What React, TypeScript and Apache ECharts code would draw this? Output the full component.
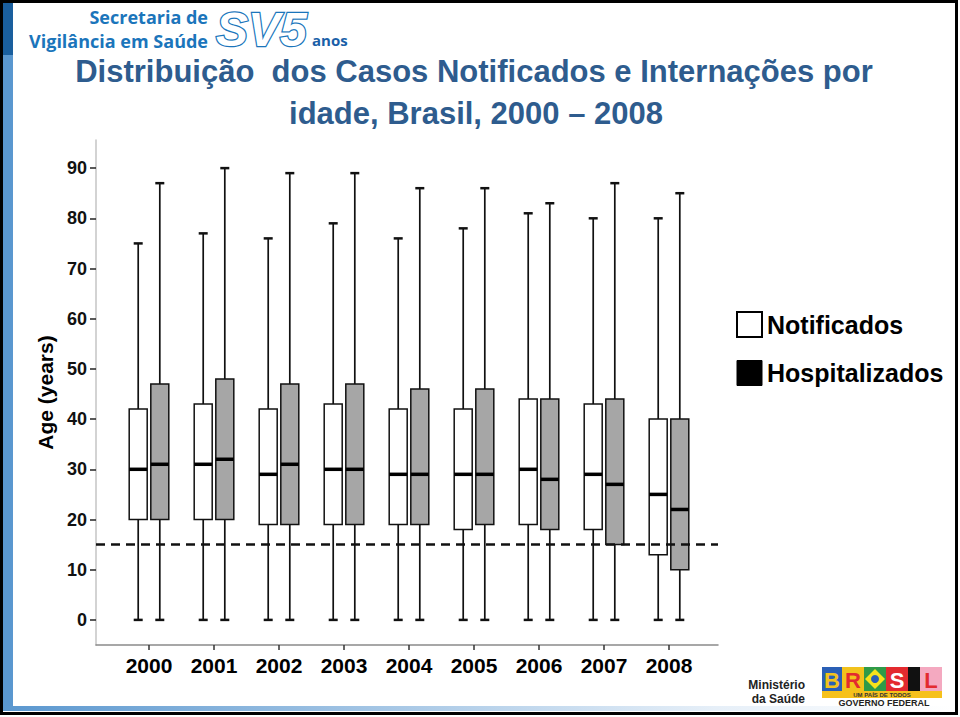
import React, { useEffect, useRef } from 'react';
import * as echarts from 'echarts';

// ---- data ----
const years = ['2000', '2001', '2002', '2003', '2004', '2005', '2006', '2007', '2008'];

const notifMin = [0, 0, 0, 0, 0, 0, 0, 0, 0];
const notifQ1 = [20, 20, 19, 19, 19, 18, 19, 18, 13];
const notifMedian = [30, 31, 29, 30, 29, 29, 30, 29, 25];
const notifQ3 = [42, 43, 42, 43, 42, 42, 44, 43, 40];
const notifMax = [75, 77, 76, 79, 76, 78, 81, 80, 80];

const hospMin = [0, 0, 0, 0, 0, 0, 0, 0, 0];
const hospQ1 = [20, 20, 19, 19, 19, 19, 18, 15, 10];
const hospMedian = [31, 32, 31, 30, 29, 29, 28, 27, 22];
const hospQ3 = [47, 48, 47, 47, 46, 46, 44, 44, 40];
const hospMax = [87, 90, 89, 89, 86, 86, 83, 87, 85];

const threshold = 15;
const yTickValues = [0, 10, 20, 30, 40, 50, 60, 70, 80, 90];
const xTickValues = years.map((_, i) => i);

const X_MIN = -0.8154;
const X_MAX = 8.7538;

function boxRows(mins: number[], q1: number[], med: number[], q3: number[], maxs: number[]) {
  return years.map((_, i) => [i, mins[i], q1[i], med[i], q3[i], maxs[i]]);
}

function makeRenderItem(offset: number, fill: string) {
  return (_params: any, api: any) => {
    const x = api.value(0);
    const c = (v: number) => api.coord([x, v]);
    const pMin = c(api.value(1));
    const pQ1 = c(api.value(2));
    const pMed = c(api.value(3));
    const pQ3 = c(api.value(4));
    const pMax = c(api.value(5));
    const cx = pMin[0] + offset;
    const half = 9;
    const cap = 4.5;
    const stroke = '#111';
    return {
      type: 'group',
      children: [
        { type: 'line', shape: { x1: cx, y1: pMax[1], x2: cx, y2: pQ3[1] }, style: { stroke, lineWidth: 1.7 } },
        { type: 'line', shape: { x1: cx, y1: pQ1[1], x2: cx, y2: pMin[1] }, style: { stroke, lineWidth: 1.7 } },
        { type: 'line', shape: { x1: cx - cap, y1: pMax[1], x2: cx + cap, y2: pMax[1] }, style: { stroke, lineWidth: 2.5 } },
        { type: 'line', shape: { x1: cx - cap, y1: pMin[1], x2: cx + cap, y2: pMin[1] }, style: { stroke, lineWidth: 2.5 } },
        {
          type: 'rect',
          shape: { x: cx - half, y: pQ3[1], width: half * 2, height: pQ1[1] - pQ3[1] },
          style: { fill, stroke, lineWidth: 1.5 },
        },
        { type: 'line', shape: { x1: cx - half, y1: pMed[1], x2: cx + half, y2: pMed[1] }, style: { stroke: '#000', lineWidth: 3.5 } },
      ],
    };
  };
}

const titleColor = '#2e5c8e';
const logoBlue = '#1b75bb';
const sans = "'Liberation Sans', Arial, sans-serif";

export default function App() {
  const ref = useRef<HTMLDivElement>(null);

  useEffect(() => {
    if (!ref.current) return;
    const chart = echarts.init(ref.current, undefined, { renderer: 'svg' });

    const option: any = {
      animation: false,
      backgroundColor: '#fff',
      grid: { left: 96, right: 242, top: 140, bottom: 72, containLabel: false },
      xAxis: {
        type: 'value',
        min: X_MIN,
        max: X_MAX,
        splitLine: { show: false },
        axisLine: { show: true, onZero: false, lineStyle: { color: '#8a8a8a', width: 1.5 } },
        axisTick: { show: true, customValues: xTickValues, length: 5, lineStyle: { color: '#333', width: 1.5 } },
        axisLabel: {
          customValues: xTickValues,
          formatter: (v: number) => years[Math.round(v)] ?? '',
          margin: 10,
          fontSize: 21,
          fontWeight: 'bold',
          color: '#000',
          fontFamily: sans,
        },
      },
      yAxis: {
        type: 'value',
        min: -5,
        max: 95.6,
        splitLine: { show: false },
        axisLine: { show: true, onZero: false, lineStyle: { color: '#c4c4c4', width: 1.5 } },
        axisTick: { show: true, customValues: yTickValues, length: 6, lineStyle: { color: '#222', width: 1.5 } },
        axisLabel: {
          customValues: yTickValues,
          margin: 9,
          fontSize: 18,
          fontWeight: 'bold',
          color: '#111',
          fontFamily: sans,
        },
        name: 'Age (years)',
        nameLocation: 'middle',
        nameRotate: 90,
        nameGap: 31,
        nameTextStyle: { fontSize: 21, fontWeight: 'bold', color: '#000', fontFamily: sans },
      },
      legend: {
        orient: 'vertical',
        left: 731,
        top: 306,
        itemWidth: 25,
        itemHeight: 25,
        itemGap: 22,
        selectedMode: false,
        textStyle: { fontSize: 25, fontWeight: 'bold', color: '#000', fontFamily: sans },
        data: [
          { name: 'Notificados', icon: 'rect', itemStyle: { color: '#fff', borderColor: '#000', borderWidth: 2 } },
          { name: 'Hospitalizados', icon: 'rect', itemStyle: { color: '#000', borderColor: '#000', borderWidth: 1 } },
        ],
      },
      series: [
        {
          name: 'Notificados',
          type: 'custom',
          renderItem: makeRenderItem(-10.8, '#ffffff'),
          encode: { x: 0, y: [1, 2, 3, 4, 5] },
          data: boxRows(notifMin, notifQ1, notifMedian, notifQ3, notifMax),
          itemStyle: { color: '#fff', borderColor: '#000' },
          z: 2,
        },
        {
          name: 'Hospitalizados',
          type: 'custom',
          renderItem: makeRenderItem(10.8, '#a6a6a6'),
          encode: { x: 0, y: [1, 2, 3, 4, 5] },
          data: boxRows(hospMin, hospQ1, hospMedian, hospQ3, hospMax),
          itemStyle: { color: '#000' },
          z: 2,
        },
        {
          name: 'threshold',
          type: 'line',
          data: [[X_MIN, threshold], [X_MAX, threshold]],
          symbol: 'none',
          silent: true,
          lineStyle: { color: '#111', width: 2.5, type: [9, 6] },
          z: 5,
        },
      ],
      graphic: [
        // slide frame
        { type: 'rect', shape: { x: 3, y: 3, width: 10, height: 706 }, style: { fill: '#5a97cf' }, z: 1 },
        { type: 'rect', shape: { x: 3, y: 3, width: 10, height: 52 }, style: { fill: '#1a5f9e' }, z: 2 },
        {
          type: 'rect',
          shape: { x: 3, y: 706, width: 950, height: 5 },
          style: {
            fill: new echarts.graphic.LinearGradient(0, 0, 1, 0, [
              { offset: 0, color: '#5a97cf' },
              { offset: 0.75, color: '#e6eff8' },
              { offset: 1, color: '#ffffff' },
            ]),
          },
          z: 1,
        },
        { type: 'rect', shape: { x: 1.5, y: 1.5, width: 955, height: 712 }, style: { fill: 'none', stroke: '#000', lineWidth: 3 }, z: 10 },
        // header logo
        {
          type: 'text', x: 208, y: 16.5,
          style: { text: 'Secretaria de', fill: logoBlue, font: "bold 18px 'Open Sans', sans-serif", textAlign: 'right', textVerticalAlign: 'middle' },
        },
        {
          type: 'text', x: 208, y: 41,
          style: { text: 'Vigilância em Saúde', fill: logoBlue, font: "bold 18px 'Open Sans', sans-serif", textAlign: 'right', textVerticalAlign: 'middle' },
        },
        {
          type: 'text', x: 216, y: 29,
          style: {
            text: 'SV5', fill: '#fff', stroke: logoBlue, lineWidth: 2.5,
            font: "italic 900 48px 'Liberation Sans', sans-serif", textAlign: 'left', textVerticalAlign: 'middle',
          },
        },
        {
          type: 'text', x: 312, y: 40,
          style: { text: 'anos', fill: '#1a5fa8', font: "bold 15px 'Open Sans', sans-serif", textAlign: 'left', textVerticalAlign: 'middle' },
        },
        // title
        {
          type: 'text', x: 474, y: 71,
          style: {
            text: 'Distribuição  dos Casos Notificados e Internações por', fill: titleColor,
            font: "bold 31px 'Liberation Sans', Arial, sans-serif", textAlign: 'center', textVerticalAlign: 'middle',
          },
        },
        {
          type: 'text', x: 476, y: 113,
          style: {
            text: 'idade, Brasil, 2000 – 2008', fill: titleColor,
            font: "bold 31px 'Liberation Sans', Arial, sans-serif", textAlign: 'center', textVerticalAlign: 'middle',
          },
        },
        // footer logos
        {
          type: 'text', x: 805, y: 685,
          style: { text: 'Ministério', fill: '#222', font: "bold 12px 'Liberation Sans', sans-serif", textAlign: 'right', textVerticalAlign: 'middle' },
        },
        {
          type: 'text', x: 805, y: 699,
          style: { text: 'da Saúde', fill: '#222', font: "bold 12px 'Liberation Sans', sans-serif", textAlign: 'right', textVerticalAlign: 'middle' },
        },
        { type: 'rect', shape: { x: 822, y: 667, width: 20, height: 24 }, style: { fill: '#2a5fb5' }, z: 3 },
        { type: 'rect', shape: { x: 842, y: 667, width: 22, height: 24 }, style: { fill: '#f2c21c' }, z: 3 },
        { type: 'rect', shape: { x: 864, y: 667, width: 22, height: 24 }, style: { fill: '#2f9a48' }, z: 3 },
        { type: 'polygon', shape: { points: [[875, 669], [885, 679], [875, 689], [865, 679]] }, style: { fill: '#f7e21b' }, z: 4 },
        { type: 'circle', shape: { cx: 875, cy: 679, r: 4 }, style: { fill: '#2a5fb5' }, z: 5 },
        { type: 'rect', shape: { x: 886, y: 667, width: 22, height: 24 }, style: { fill: '#e32a2f' }, z: 3 },
        { type: 'rect', shape: { x: 908, y: 667, width: 12, height: 24 }, style: { fill: '#111' }, z: 3 },
        { type: 'rect', shape: { x: 920, y: 667, width: 22, height: 24 }, style: { fill: '#f4a9c0' }, z: 3 },
        { type: 'text', x: 832, y: 680, z: 6, style: { text: 'B', fill: '#f2c21c', font: "900 22px 'Liberation Sans', sans-serif", textAlign: 'center', textVerticalAlign: 'middle' } },
        { type: 'text', x: 853, y: 680, z: 6, style: { text: 'R', fill: '#e32a2f', font: "900 22px 'Liberation Sans', sans-serif", textAlign: 'center', textVerticalAlign: 'middle' } },
        { type: 'text', x: 897, y: 680, z: 6, style: { text: 'S', fill: '#fff', font: "900 22px 'Liberation Sans', sans-serif", textAlign: 'center', textVerticalAlign: 'middle' } },
        { type: 'text', x: 931, y: 680, z: 6, style: { text: 'L', fill: '#e32a2f', font: "900 22px 'Liberation Sans', sans-serif", textAlign: 'center', textVerticalAlign: 'middle' } },
        { type: 'rect', shape: { x: 822, y: 691, width: 120, height: 7 }, style: { fill: '#f6c11b' }, z: 3 },
        {
          type: 'text', x: 882, y: 694.5, z: 6,
          style: { text: 'UM PAÍS DE TODOS', fill: '#333', font: "bold 6px 'Liberation Sans', sans-serif", textAlign: 'center', textVerticalAlign: 'middle' },
        },
        {
          type: 'text', x: 884, y: 703, z: 11,
          style: { text: 'GOVERNO FEDERAL', fill: '#222', font: "bold 9px 'Liberation Sans', sans-serif", textAlign: 'center', textVerticalAlign: 'middle' },
        },
      ],
    };

    chart.setOption(option);
    return () => chart.dispose();
  }, []);

  return (
    <div
      ref={ref}
      style={{ position: 'absolute', left: 0, top: 0, width: 960, height: 717 }}
    />
  );
}
